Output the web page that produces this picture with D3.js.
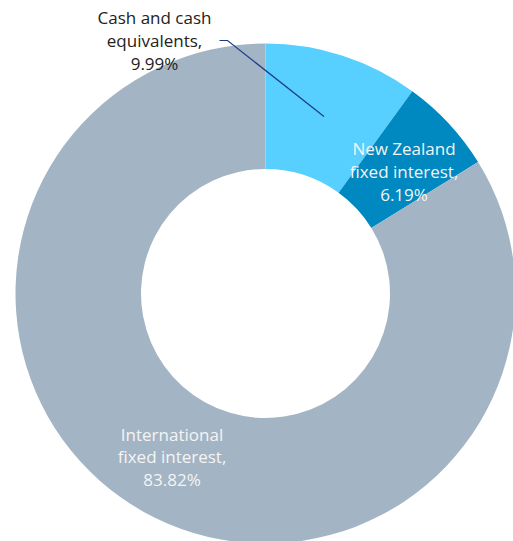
<!DOCTYPE html>
<html>
<head>
<meta charset="utf-8">
<script src="https://cdn.jsdelivr.net/npm/d3@7"></script>
<style>
  html, body { margin: 0; padding: 0; background: #fff; }
  svg { display: block; }
  text { font-family: "Open Sans", sans-serif; font-size: 17px; }
</style>
</head>
<body>
<svg id="chart"></svg>
<script>
const categories = ["Cash and cash equivalents", "New Zealand fixed interest", "International fixed interest"],
	values = [9.99, 6.19, 83.82],
	labelLines = [
		["Cash and cash", "equivalents,", "9.99%"],
		["New Zealand", "fixed interest,", "6.19%"],
		["International", "fixed interest,", "83.82%"]
	];

const width = 513,
	height = 541,
	cx = 265.5,
	cy = 293.5,
	outerR = 250,
	innerR = 124.5;

const colors = d3.scaleOrdinal()
	.domain(categories)
	.range(["#57cfff", "#0088c0", "#a3b5c4"]);

const textColors = ["#222", "#f4f4f4", "#f4f4f4"];

const svg = d3.select('svg#chart')
	.attr('width', width)
	.attr('height', height);

const g = svg.append('g').attr('transform', `translate(${cx},${cy})`);

const pie = d3.pie().sort(null).value(d => d.value);
const arc = d3.arc().innerRadius(innerR).outerRadius(outerR);

const slices = pie(categories.map((c, i) => ({ name: c, value: values[i] })));

g.selectAll('path.slice')
	.data(slices)
	.enter().append('path')
	.classed('slice', true)
	.attr('d', arc)
	.attr('fill', d => colors(d.data.name));

// label spots, centre of first baseline, relative to the donut centre
const labelPos = [
	{ x: 154.5 - cx, y: 24 - cy },
	{ x: 404 - cx, y: 155 - cy },
	{ x: 172 - cx, y: 440.5 - cy }
];

// leader line from the cash label into its slice
g.append('path')
	.attr('d', d3.line()([[219.5 - cx, 40.5 - cy], [227.5 - cx, 40.5 - cy], [324 - cx, 116.5 - cy]]))
	.attr('fill', 'none')
	.attr('stroke', '#1f3a8a')
	.attr('stroke-width', 1.2);

const labels = g.selectAll('text.label')
	.data(slices)
	.enter().append('text')
	.classed('label', true)
	.attr('text-anchor', 'middle')
	.attr('fill', (d, i) => textColors[i]);

labels.each(function(d, i) {
	const t = d3.select(this);
	labelLines[i].forEach((line, j) => {
		t.append('tspan')
			.attr('x', labelPos[i].x)
			.attr('y', labelPos[i].y + j * 22.8)
			.text(line);
	});
});
</script>
</body>
</html>
